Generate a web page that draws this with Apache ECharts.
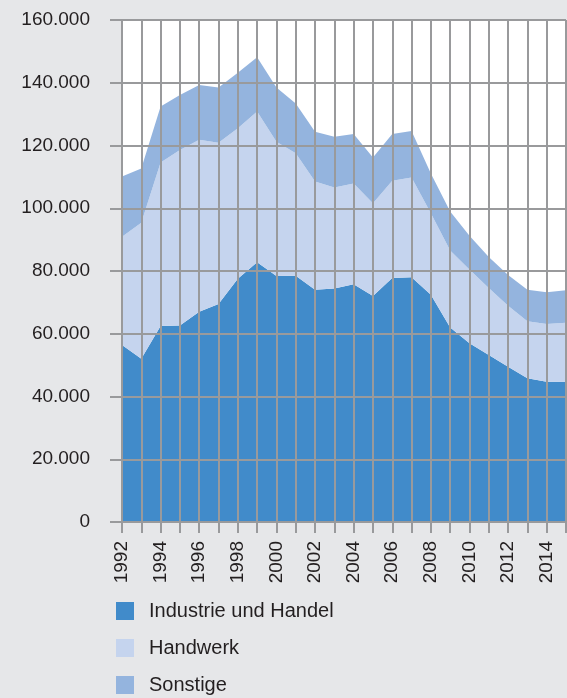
<!DOCTYPE html>
<html>
<head>
<meta charset="utf-8">
<script src="https://cdn.jsdelivr.net/npm/echarts@6/dist/echarts.min.js"></script>
<style>
  html, body { margin: 0; padding: 0; background: #e6e7e9; }
  #chart { width: 567px; height: 698px; }
</style>
</head>
<body>
<div id="chart"></div>
<script>
var years = ['1992', '1993', '1994', '1995', '1996', '1997', '1998', '1999', '2000', '2001', '2002', '2003',
    '2004', '2005', '2006', '2007', '2008', '2009', '2010', '2011', '2012', '2013', '2014', '2015'];

// Industrie und Handel
var industrie = [56400, 52000, 62500, 62600, 67000, 69500, 77500, 82800, 78400, 78500, 74000, 74400,
    75800, 72000, 77800, 78000, 72400, 62000, 57000, 53200, 49500, 45800, 44700, 44700];
// Handwerk
var handwerk = [34500, 43400, 52100, 56000, 54800, 51400, 48000, 48000, 42800, 39000, 34500, 32200,
    32100, 29600, 31000, 31800, 26000, 24500, 23500, 21400, 19400, 18200, 18400, 18800];
// Sonstige
var sonstige = [19200, 17300, 17800, 17500, 17500, 17600, 17700, 17300, 17300, 15900, 15900, 16200,
    15800, 14600, 14900, 14800, 12700, 12500, 10700, 9900, 9800, 10000, 10100, 10400];

var names = ['Industrie und Handel', 'Handwerk', 'Sonstige'];
var colors = ['#418bca', '#c5d4ee', '#94b4de'];

var font = "'Liberation Sans', Arial, sans-serif";
var grid_col = '#999a9c';
var text_col = '#231f20';

var chart = echarts.init(document.getElementById('chart'));

function make_area(name, data) {
    return {
        name: name,
        type: 'line',
        stack: 'total',
        data: data,
        symbol: 'none',
        lineStyle: { width: 0 },
        areaStyle: { opacity: 1 },
        z: 2
    };
}

var option = {
    backgroundColor: '#e6e7e9',
    color: colors,
    animation: false,
    textStyle: { fontFamily: font },
    grid: {
        left: 122,
        right: 1,
        top: 20,
        bottom: 176,
        show: true,
        backgroundColor: '#ffffff',
        borderWidth: 0
    },
    legend: {
        orient: 'vertical',
        left: 116,
        top: 601,
        height: 110,
        padding: 0,
        itemWidth: 18,
        itemHeight: 18,
        itemGap: 17,
        icon: 'rect',
        data: names,
        textStyle: {
            fontFamily: font,
            fontSize: 20,
            lineHeight: 18,
            color: text_col,
            padding: [0, 0, 0, 10]
        }
    },
    xAxis: {
        type: 'category',
        data: years,
        boundaryGap: false,
        z: 5,
        axisLine: { show: true, lineStyle: { color: grid_col, width: 2 } },
        axisTick: {
            show: true,
            interval: 0,
            length: 11,
            lineStyle: { color: grid_col, width: 2 }
        },
        splitLine: {
            show: true,
            interval: 0,
            lineStyle: { color: grid_col, width: 2 }
        },
        axisLabel: {
            interval: 1,
            rotate: 90,
            margin: 19,
            fontFamily: font,
            fontSize: 19,
            color: text_col
        }
    },
    yAxis: {
        type: 'value',
        min: 0,
        max: 160000,
        interval: 20000,
        z: 5,
        axisLine: { show: false },
        axisTick: {
            show: true,
            length: 12,
            lineStyle: { color: grid_col, width: 2 }
        },
        splitLine: {
            show: true,
            lineStyle: { color: grid_col, width: 2 }
        },
        axisLabel: {
            margin: 32,
            fontFamily: font,
            fontSize: 19,
            color: text_col,
            formatter: function (v) {
                return v === 0 ? '0' : (v / 1000) + '.000';
            }
        }
    },
    series: [
        make_area(names[0], industrie),
        make_area(names[1], handwerk),
        make_area(names[2], sonstige)
    ]
};

chart.setOption(option);
</script>
</body>
</html>
